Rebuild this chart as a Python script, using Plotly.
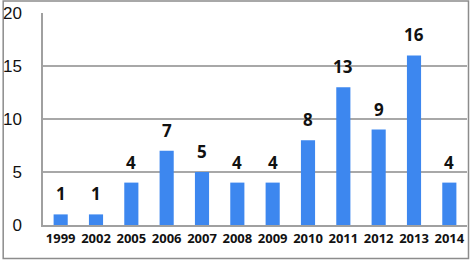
import plotly.graph_objects as go

years = ["1999", "2002", "2005", "2006", "2007", "2008", "2009", "2010", "2011", "2012", "2013", "2014"]
counts = [1, 1, 4, 7, 5, 4, 4, 8, 13, 9, 16, 4]
y_ticks = [0, 5, 10, 15, 20]

W, H = 470, 260
ML, MR, MT, MB = 41, 3, 13, 35

fig = go.Figure()
fig.add_trace(go.Bar(
    x=years, y=counts, marker=dict(color="#3D87EF", line=dict(width=0)),
    hoverinfo="skip"
))

for i, c in enumerate(counts):
    fig.add_annotation(x=i, y=c, text="<b>%d</b>" % c, showarrow=False,
                       yanchor="bottom", yshift=7,
                       font=dict(family="Open Sans, Liberation Sans, sans-serif", size=17, color="#111"))

pw, ph = W - ML - MR, H - MT - MB
fig.add_shape(type="rect", xref="paper", yref="paper",
              x0=-(ML - 1) / pw, x1=1 + (MR - 1.5) / pw,
              y0=-(MB - 1.5) / ph, y1=1 + (MT - 1) / ph,
              line=dict(color="#8c8c8c", width=1.5), layer="below")

fig.update_layout(
    width=W, height=H, margin=dict(l=ML, r=MR, t=MT, b=MB),
    plot_bgcolor="white", paper_bgcolor="white",
    bargap=0.6, showlegend=False,
    xaxis=dict(type="category", range=[-0.5, len(years) - 0.5], showline=True, linecolor="#a0a0a0",
               linewidth=1.5, showgrid=False,
               tickfont=dict(family="Open Sans, Liberation Sans, sans-serif", size=13, color="#111"),
               ticks="", tickprefix="<b>", ticksuffix="</b>", ticklabelstandoff=1, fixedrange=True),
    yaxis=dict(range=[0, 20], tickvals=y_ticks, showline=True, linecolor="#a0a0a0", linewidth=1.5,
               showgrid=True, gridcolor="#a8a8a8", gridwidth=1.5, zeroline=False,
               tickfont=dict(family="Liberation Sans, Arial, sans-serif", size=17, color="#111"),
               ticks="", ticklabelstandoff=16, fixedrange=True),
)

fig.write_html("out.html", config={"displayModeBar": False},
               post_script="document.body.style.margin='0';")
